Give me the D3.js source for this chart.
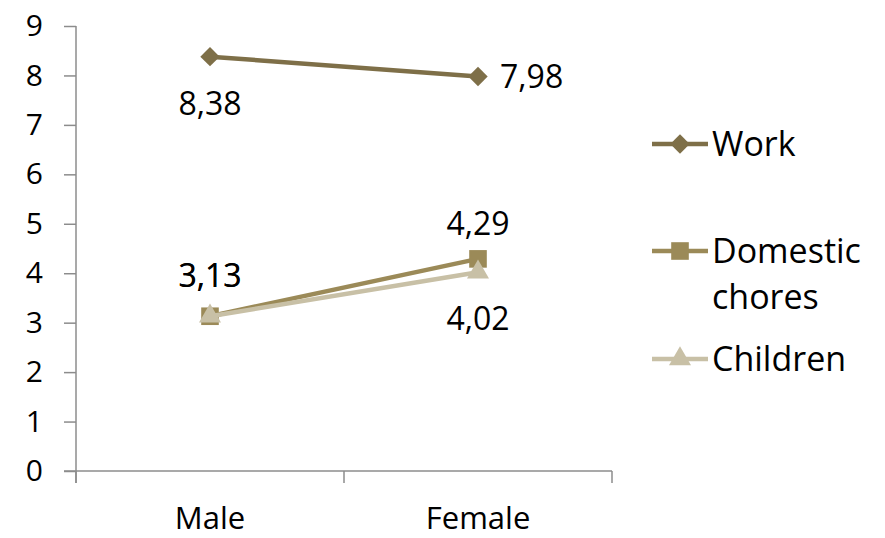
<!DOCTYPE html>
<html><head><meta charset="utf-8">
<script src="https://cdn.jsdelivr.net/npm/d3@7"></script>
<style>body{margin:0;background:#fff}svg{display:block}text{font-family:"Open Sans",Lato,sans-serif;fill:#000}</style>
</head><body>
<script>
const categories = ["Male", "Female"];
const seriesNames = ["Work", "Domestic chores", "Children"];
const workValues = [8.38, 7.98];
const choresValues = [3.13, 4.29];
const childrenValues = [3.13, 4.02];
const yTicks = [0,1,2,3,4,5,6,7,8,9];

const W = 885, H = 538;
const svg = d3.select("body").append("svg").attr("width", W).attr("height", H);
const x = d3.scaleBand().domain(categories).range([76, 612]);
const y = d3.scaleLinear().domain([0, 9]).range([471, 26]);
const fsTick = 30, fsCat = 31, fsLabel = 32, fsLegend = 34;

// axes
const yAxis = svg.append("g").attr("transform", "translate(76,0)")
  .call(d3.axisLeft(y).tickValues(yTicks).tickSize(12).tickPadding(21).tickFormat(d3.format("d")));
yAxis.select(".domain").attr("stroke", "#8c8c8c").attr("stroke-width", 1.5).attr("d", "M0,26V483");
yAxis.selectAll(".tick line").attr("stroke", "#8c8c8c").attr("stroke-width", 1.5);
yAxis.selectAll(".tick text").style("font-size", fsTick + "px").attr("fill", "#000");

const xAxis = svg.append("g").attr("transform", "translate(0,471)")
  .call(d3.axisBottom(x).tickSize(0).tickPadding(36));
xAxis.select(".domain").attr("stroke", "#8c8c8c").attr("stroke-width", 1.5).attr("d", "M64,0H612");
xAxis.selectAll(".tick text").style("font-size", fsCat + "px").attr("fill", "#000");
const bounds = [76, x("Female"), 612];
svg.selectAll(".xt").data(bounds).enter().append("line")
  .attr("x1", d => d).attr("x2", d => d).attr("y1", 471).attr("y2", 483)
  .attr("stroke", "#8c8c8c").attr("stroke-width", 1.5);

const cx = c => x(c) + x.bandwidth() / 2;
const series = [
  {name: "Work", values: workValues, color: "#7e6f48", sym: d3.symbolDiamond2, size: 240},
  {name: "Domestic chores", values: choresValues, color: "#9b8a58", sym: d3.symbolSquare, size: 310},
  {name: "Children", values: childrenValues, color: "#c8c0a6", sym: d3.symbolTriangle, size: 210}
];
const line = d3.line().x((d, i) => cx(categories[i])).y(d => y(d));

series.forEach(s => {
  svg.append("path").attr("d", line(s.values)).attr("fill", "none")
    .attr("stroke", s.color).attr("stroke-width", 4.5);
  svg.selectAll(null).data(s.values).enter().append("path")
    .attr("d", d3.symbol().type(s.sym).size(s.size))
    .attr("transform", (d, i) => `translate(${cx(categories[i])},${y(d)})`)
    .attr("fill", s.color);
});

// data labels
const fmt = v => v.toFixed(2).replace(".", ",");
const labelPos = [
  [{dx: 0, dy: 58, a: "middle"}, {dx: 22, dy: 12, a: "start"}],
  [{dx: 0, dy: -29, a: "middle"}, {dx: 0, dy: -24, a: "middle"}],
  [{dx: 0, dy: -29, a: "middle"}, {dx: 0, dy: 58, a: "middle"}]
];
series.forEach((s, si) => {
  s.values.forEach((v, i) => {
    const p = labelPos[si][i];
    svg.append("text").attr("x", cx(categories[i]) + p.dx).attr("y", y(v) + p.dy)
      .attr("text-anchor", p.a).style("font-size", fsLabel + "px").text(fmt(v));
  });
});

// legend
const legY = [144, 251, 359];
series.forEach((s, si) => {
  const g = svg.append("g").attr("transform", `translate(652,${legY[si]})`);
  g.append("line").attr("x1", 0).attr("x2", 56).attr("stroke", s.color).attr("stroke-width", 4.5);
  g.append("path").attr("d", d3.symbol().type(s.sym).size(s.size)).attr("transform", "translate(28,0)").attr("fill", s.color);
  const t = g.append("text").attr("x", 60).attr("y", 12).style("font-size", fsLegend + "px");
  const words = s.name === "Domestic chores" ? ["Domestic", "chores"] : [s.name];
  words.forEach((w, wi) => t.append("tspan").attr("x", 60).attr("dy", wi ? 46 : 0).text(w));
});
</script>
</body></html>
